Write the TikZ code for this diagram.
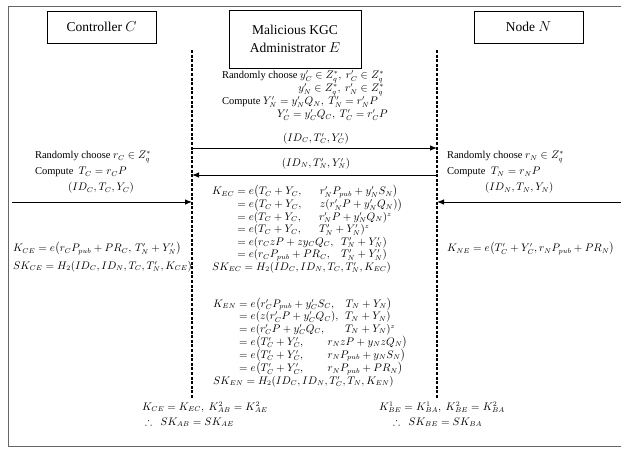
\documentclass[tikz,border=0pt]{standalone}
\usepackage{amsmath,amssymb}
\usepackage{fontspec}
\setmainfont{Liberation Serif}
\usetikzlibrary{arrows.meta,calc}
\newcommand\fa[2]{\makebox[#1][l]{$#2$}}
\begin{document}
\begin{tikzpicture}[x=1pt,y=-1pt,
  every node/.style={inner sep=0pt, outer sep=0pt, font=\fontsize{10.5}{12.5}\selectfont},
  actor/.style={draw, line width=0.6pt, font=\fontsize{13.5}{18}\selectfont, align=center, inner sep=0pt},
  life/.style={line width=1.3pt, dash pattern=on 3pt off 1.6pt},
  msg/.style={line width=0.9pt, -{Latex[length=7pt,width=5.5pt]}},
  frame/.style={draw=black!60, line width=0.8pt},
]
\useasboundingbox (0,0) rectangle (621,456);
% outer frame
\coordinate (f1) at (621,6);
\coordinate (f2) at (8,6);
\coordinate (f3) at (8,446);
\coordinate (f4) at (621,446);
\draw[frame] (f1) -- (f2) -- (f3) -- (f4);

% actors
\node[actor, minimum width=109pt, minimum height=32pt] (ctrl) at (101.5,27) {Controller $C$};
\node[actor, minimum width=132pt, minimum height=58pt] (kgc) at (295,39) {Malicious KGC\\Administrator $E$};
\node[actor, minimum width=109pt, minimum height=32pt] (nodeN) at (528.5,27) {Node $N$};

% lifelines
\coordinate (lt) at (192,50);
\coordinate (lb) at (192,398);
\coordinate (rt) at (437,50);
\coordinate (rb) at (437,398);
\draw[life] (lt) -- (lb);
\draw[life] (rt) -- (rb);

% centre top text
\node[anchor=base west] (t1) at (222,78.5) {Randomly choose $y'_C \in Z_q^*,\ r'_C \in Z_q^*$};
\node[anchor=base east] (t2) at ($(t1.base east)+(0,13)$) {$y'_N \in Z_q^*,\ r'_N \in Z_q^*$};
\node[anchor=base west] (t3) at (222,104.5) {Compute $Y'_N = y'_N Q_N,\ T'_N = r'_N P$};
\node[anchor=base west] (t4) at (277,117.5) {$Y'_C = y'_C Q_C,\ T'_C = r'_C P$};

% messages E -> N and N -> E
\node[anchor=base] (m1l) at (316,141) {$(ID_C, T'_C, Y'_C)$};
\coordinate (m1s) at (192,148);
\coordinate (m1e) at (437,148);
\draw[msg] (m1s) -- (m1e);
\node[anchor=base] (m2l) at (316,166) {$(ID_N, T'_N, Y'_N)$};
\coordinate (m2s) at (437,175);
\coordinate (m2e) at (192,175);
\draw[msg] (m2s) -- (m2e);

% left side
\node[anchor=base west] (l1) at (35,158.5) {Randomly choose $r_C \in Z_q^*$};
\node[anchor=base west] (l2) at (35,174.5) {Compute\ \ $T_C = r_C P$};
\node[anchor=base west] (l3) at (68,190.5) {$(ID_C, T_C, Y_C)$};
\coordinate (m3s) at (12,202);
\coordinate (m3e) at (192,202);
\draw[msg] (m3s) -- (m3e);
\node[anchor=base west] (l4) at (13,251.5) {$K_{CE} = e\bigl(r_C P_{pub} + PR_C,\, T'_N + Y'_N\bigr)$};
\node[anchor=base west] (l5) at (13,269) {$SK_{CE} = H_2(ID_C, ID_N, T_C, T'_N, K_{CE})$};

% right side
\node[anchor=base west] (r1) at (447,158.5) {Randomly choose $r_N \in Z_q^*$};
\node[anchor=base west] (r2) at (447,174.5) {Compute\ \ $T_N = r_N P$};
\node[anchor=base west] (r3) at (485,190.5) {$(ID_N, T_N, Y_N)$};
\coordinate (m4s) at (621,202);
\coordinate (m4e) at (437,202);
\draw[msg] (m4s) -- (m4e);
\node[anchor=base west] (r4) at (447,251.5) {$K_{NE} = e\bigl(T'_C + Y'_C, r_N P_{pub} + PR_N\bigr)$};

% K_EC block
\node[anchor=base west] (kec) at (212,194.5) {$\begin{array}[t]{@{}r@{\;}l@{}}
K_{EC} & = e\bigl(\fa{61pt}{T_C + Y_C,} r'_N P_{pub} + y'_N S_N\bigr)\\
 & = e\bigl(\fa{61pt}{T_C + Y_C,} z(r'_N P + y'_N Q_N)\bigr)\\
 & = e(\fa{61pt}{T_C + Y_C,} r'_N P + y'_N Q_N)^z\\
 & = e(\fa{61pt}{T_C + Y_C,} T'_N + Y'_N)^z\\
 & = e(\fa{83pt}{r_C zP + zy_C Q_C,} T'_N + Y'_N)\\
 & = e(\fa{83pt}{r_C P_{pub} + PR_C,} T'_N + Y'_N)\\
\multicolumn{2}{@{}l@{}}{SK_{EC} = H_2(ID_C, ID_N, T_C, T'_N, K_{EC})}
\end{array}$};

% K_EN block
\node[anchor=base west] (ken) at (213,307) {$\begin{array}[t]{@{}r@{\;}l@{}}
K_{EN} & = e\bigl(\fa{85pt}{r'_C P_{pub} + y'_C S_C,} T_N + Y_N\bigr)\\
 & = e(\fa{85pt}{z(r'_C P + y'_C Q_C),} T_N + Y_N)\\
 & = e(\fa{85pt}{r'_C P + y'_C Q_C,} T_N + Y_N)^z\\
 & = e\bigl(\fa{67pt}{T'_C + Y'_C,} r_N zP + y_N zQ_N\bigr)\\
 & = e\bigl(\fa{67pt}{T'_C + Y'_C,} r_N P_{pub} + y_N S_N\bigr)\\
 & = e\bigl(\fa{67pt}{T'_C + Y'_C,} r_N P_{pub} + PR_N\bigr)\\
\multicolumn{2}{@{}l@{}}{SK_{EN} = H_2(ID_C, ID_N, T'_C, T_N, K_{EN})}
\end{array}$};

% bottom conclusions
\node[anchor=base west] (b1) at (142,410) {$K_{CE} = K_{EC},\ K^2_{AB} = K^2_{AE}$};
\node[anchor=base west] (b2) at (145,425) {$\therefore\ \ SK_{AB} = SK_{AE}$};
\node[anchor=base west] (b3) at (379,410) {$K^1_{BE} = K^1_{BA},\ K^2_{BE} = K^2_{BA}$};
\node[anchor=base west] (b4) at (393,425) {$\therefore\ \ SK_{BE} = SK_{BA}$};
\end{tikzpicture}
\end{document}
